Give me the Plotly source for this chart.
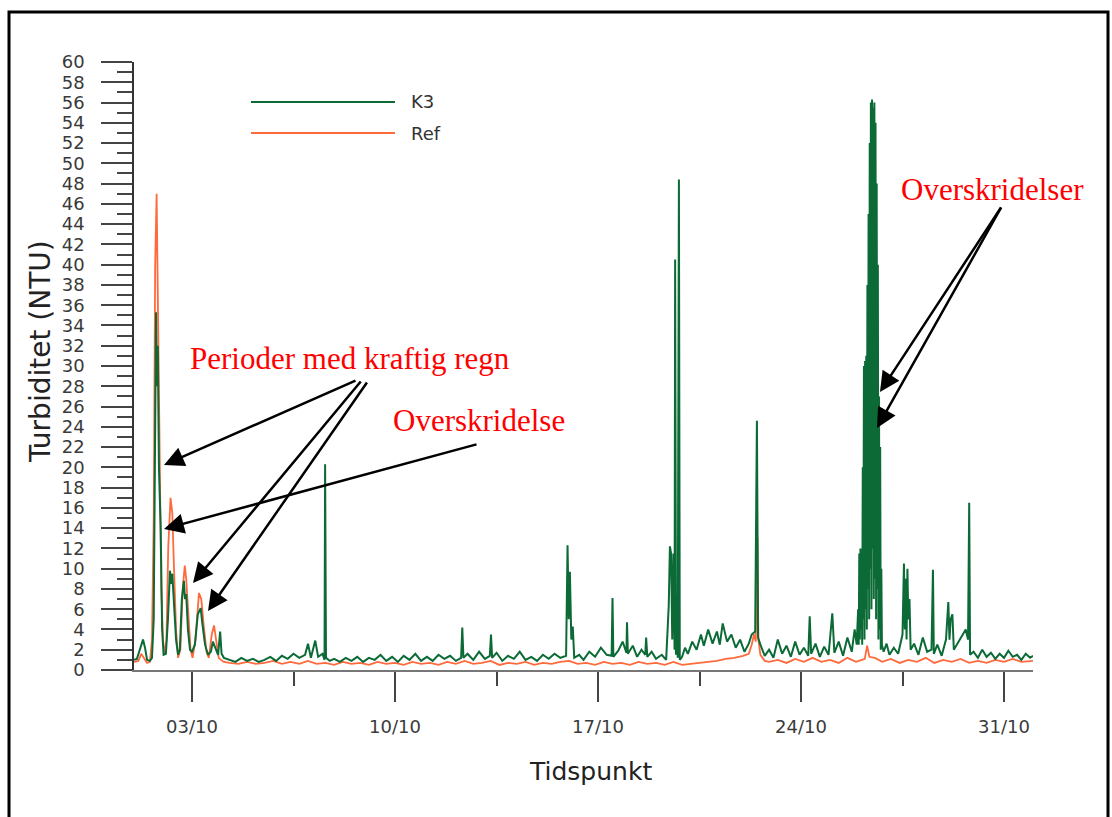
import pandas as pd
import plotly.graph_objects as go

START = pd.Timestamp("2009-10-01")

# ---------------- data (day offset from 01/10, turbidity NTU) ----------------
k3_day = [
    0.00, 0.10, 0.20, 0.31, 0.38, 0.45, 0.55, 0.62, 0.68, 0.72, 0.76, 0.79, 0.82, 0.86, 0.92, 0.97,
    1.02, 1.10, 1.17, 1.24, 1.28, 1.32, 1.38, 1.45, 1.52, 1.58, 1.65, 1.72, 1.76, 1.80, 1.86, 1.93,
    2.00, 2.10, 2.20, 2.30, 2.36, 2.45, 2.55, 2.65, 2.72, 2.80, 2.90, 2.97, 3.02, 3.10,
    3.3, 3.5, 3.7, 3.9, 4.1, 4.3, 4.5, 4.7, 4.9, 5.1, 5.3, 5.5, 5.7, 5.9, 6.0, 6.1, 6.25, 6.35,
    6.5, 6.57, 6.59, 6.62, 6.75, 6.9, 7.1, 7.3, 7.5, 7.7, 7.9, 8.1, 8.3, 8.5, 8.7, 8.9, 9.1, 9.3,
    9.5, 9.7, 9.9, 10.1, 10.3, 10.5, 10.7, 10.9, 11.1, 11.28, 11.32, 11.36, 11.5, 11.7, 11.9, 12.1,
    12.27, 12.31, 12.35, 12.5, 12.7, 12.9, 13.1, 13.3, 13.5, 13.7, 13.9, 14.1, 14.3, 14.5, 14.7,
    14.9, 14.95, 14.99, 15.03, 15.08, 15.13, 15.18, 15.35, 15.5, 15.7, 15.9, 16.1, 16.3, 16.47,
    16.5, 16.53, 16.7, 16.85, 16.98, 17.0, 17.03, 17.2, 17.35, 17.5, 17.63, 17.66, 17.7, 17.85,
    18.0, 18.2, 18.35, 18.44, 18.48, 18.52, 18.56, 18.6, 18.64, 18.66, 18.69, 18.72, 18.75, 18.79,
    18.82, 18.9, 19.0, 19.1, 19.25, 19.4, 19.55, 19.65, 19.8, 19.95, 20.1, 20.2, 20.3, 20.45,
    20.6, 20.75, 20.9, 21.05, 21.2, 21.3, 21.42, 21.48, 21.52, 21.6, 21.75, 21.9, 22.05, 22.2,
    22.35, 22.5, 22.65, 22.8, 22.95, 23.1, 23.25, 23.3, 23.35, 23.5, 23.65, 23.8, 23.95, 24.08,
    24.15, 24.3, 24.45, 24.6, 24.75, 24.85, 24.92,
    24.97, 24.99, 25.01, 25.03, 25.05, 25.07, 25.09, 25.11, 25.13, 25.15, 25.17, 25.19, 25.21,
    25.23, 25.25, 25.27, 25.29, 25.31, 25.33, 25.35, 25.37, 25.39, 25.41, 25.43, 25.45, 25.47,
    25.49, 25.51, 25.53, 25.55, 25.57, 25.59, 25.61, 25.63, 25.65, 25.67, 25.69, 25.71, 25.73,
    25.75, 25.77, 25.79,
    25.85, 25.95, 26.05, 26.2, 26.35, 26.5, 26.55, 26.58, 26.61, 26.64, 26.67, 26.7, 26.74, 26.78,
    26.9, 27.05, 27.2, 27.35, 27.5, 27.55, 27.58, 27.7, 27.85, 28.0, 28.08, 28.12, 28.16, 28.22,
    28.27, 28.4, 28.55, 28.68, 28.76, 28.8, 28.83, 28.95, 29.1, 29.25, 29.4, 29.55, 29.7, 29.85,
    30.0, 30.15, 30.3, 30.45, 30.6, 30.75, 30.9, 31.0,
]
k3_ntu = [
    1.0, 1.1, 2.0, 3.0, 2.2, 1.0, 0.9, 1.2, 5.0, 20.0, 35.3, 28.0, 32.0, 20.0, 14.0, 4.0,
    1.5, 1.6, 5.0, 9.8, 8.5, 9.5, 6.0, 3.0, 1.5, 2.0, 7.0, 8.8, 7.0, 7.5, 4.0, 2.0,
    1.8, 2.5, 5.5, 6.1, 4.5, 2.5, 1.5, 1.8, 2.8, 2.2, 1.5, 3.8, 1.6, 1.2,
    1.0, 0.8, 1.2, 0.9, 1.1, 0.8, 1.0, 1.3, 0.9, 1.4, 1.1, 1.6, 1.2, 1.5, 2.6, 1.2, 2.9, 1.3,
    1.6, 1.0, 20.3, 1.2, 0.9, 1.1, 0.8, 1.2, 0.9, 1.3, 0.8, 1.2, 1.0, 1.5, 0.9, 1.3, 0.8, 1.4,
    1.0, 1.6, 0.9, 1.3, 0.9, 1.5, 1.1, 1.4, 0.9, 1.2, 4.2, 1.2, 1.6, 1.0, 1.8, 1.1,
    1.4, 3.5, 1.2, 1.7, 0.9, 1.4, 1.1, 1.8, 1.0, 1.3, 0.9, 1.5, 1.1, 1.6, 1.2,
    1.4, 12.3, 5.0, 9.7, 3.0, 4.3, 1.2, 1.5, 1.0, 1.8, 1.3, 2.2, 1.5, 1.4,
    7.1, 1.3, 1.9, 2.8, 1.7, 4.7, 1.6, 2.4, 1.3, 2.0, 1.5, 3.2, 1.3, 1.8,
    1.1, 1.5, 1.0, 6.4, 12.2, 11.5, 3.0, 11.5, 2.0, 40.5, 1.5, 6.0, 1.2, 48.4,
    1.0, 1.3, 2.2, 1.6, 2.8, 2.0, 3.5, 2.4, 4.0, 2.6, 3.8, 2.5, 4.6, 2.8,
    3.5, 2.2, 3.0, 1.8, 2.6, 3.5, 3.8, 24.6, 3.2, 2.5, 1.4, 2.0, 1.2, 3.0,
    1.6, 2.4, 1.3, 2.8, 1.5, 2.2, 1.4, 5.3, 1.6, 2.6, 1.3, 2.3, 1.5, 5.6,
    1.7, 2.8, 1.4, 3.2, 1.8, 4.0, 2.5,
    6.0, 2.5, 11.5, 3.0, 12.0, 4.0, 11.0, 2.5, 20.0, 5.0, 30.0, 3.0, 30.5,
    6.0, 31.0, 4.0, 38.0, 8.0, 45.0, 5.0, 52.0, 10.0, 56.0, 6.0, 56.3, 12.0,
    55.5, 7.0, 56.0, 9.0, 54.0, 5.0, 48.0, 8.0, 40.0, 3.0, 27.0, 4.0, 22.0,
    2.0, 10.0, 2.5,
    1.8, 2.6, 1.5, 2.2, 1.6, 3.5, 10.5, 4.0, 9.0, 3.0, 10.0, 5.0, 7.0, 2.0,
    2.6, 1.5, 3.2, 1.8, 2.0, 9.9, 1.6, 2.5, 1.4, 3.0, 6.7, 3.0, 5.0, 5.5,
    2.0, 2.6, 3.4, 4.0, 3.0, 16.5, 1.5, 1.8, 1.2, 2.0, 1.3, 1.7, 1.1, 1.6,
    1.2, 1.9, 1.3, 1.5, 1.0, 1.6, 1.2, 1.4,
]

ref_day = [
    0.00, 0.15, 0.25, 0.35, 0.45, 0.55, 0.62, 0.68, 0.73, 0.78, 0.82, 0.88, 0.94, 1.00, 1.06,
    1.12, 1.18, 1.26, 1.32, 1.38, 1.45, 1.52, 1.60, 1.68, 1.75, 1.80, 1.88, 1.95, 2.02, 2.12,
    2.24, 2.32, 2.40, 2.50, 2.58, 2.68, 2.76, 2.84, 2.92, 3.00, 3.10,
    3.3, 3.6, 3.9, 4.2, 4.5, 4.8, 5.1, 5.4, 5.7, 6.0, 6.3, 6.6, 6.9, 7.2, 7.5, 7.8, 8.1, 8.4,
    8.7, 9.0, 9.3, 9.6, 9.9, 10.2, 10.5, 10.8, 11.1, 11.4, 11.7, 12.0, 12.3, 12.6, 12.9, 13.2,
    13.5, 13.8, 14.1, 14.4, 14.7, 15.0, 15.3, 15.6, 15.9, 16.2, 16.5, 16.8, 17.1, 17.4, 17.7,
    18.0, 18.3, 18.6, 18.9, 19.2, 19.5, 19.8, 20.1, 20.4, 20.7, 21.0, 21.2, 21.3, 21.38, 21.44,
    21.5, 21.53, 21.6, 21.75, 21.9, 22.2, 22.5, 22.8, 23.1, 23.4, 23.7, 24.0, 24.3, 24.6, 24.9,
    25.1, 25.2, 25.28, 25.36, 25.55, 25.8, 26.1, 26.4, 26.7, 27.0, 27.3, 27.6, 27.9, 28.2,
    28.5, 28.8, 29.1, 29.4, 29.7, 30.0, 30.3, 30.6, 31.0,
]
ref_ntu = [
    0.8, 0.9, 1.6, 1.2, 0.7, 0.8, 3.0, 15.0, 40.0, 47.0, 38.0, 20.0, 8.0, 3.0, 1.5,
    3.0, 12.0, 17.0, 15.5, 10.0, 4.0, 1.2, 2.0, 8.0, 10.3, 9.0, 5.0, 2.0, 1.2, 3.0,
    7.6, 7.0, 4.5, 1.8, 1.2, 3.5, 4.4, 3.0, 1.2, 1.0, 0.8,
    0.7, 0.6, 0.8, 0.6, 0.7, 0.9, 0.6, 0.8, 0.6, 0.9, 0.6, 0.7, 0.5, 0.8, 0.6, 0.7, 0.5, 0.8,
    0.6, 0.7, 0.5, 0.8, 0.6, 0.7, 0.5, 0.8, 0.6, 0.9, 0.6, 0.7, 0.9, 0.5, 0.7, 0.6,
    0.8, 0.5, 0.7, 0.6, 0.8, 0.9, 0.6, 0.7, 0.5, 0.8, 0.6, 0.7, 0.5, 0.8, 0.6,
    0.7, 0.5, 0.8, 0.5, 0.6, 0.7, 0.8, 0.9, 1.1, 1.2, 1.4, 1.6, 2.5, 3.5, 2.8,
    13.1, 3.0, 1.5, 0.9, 0.8, 1.0, 0.7, 1.1, 0.8, 1.2, 0.8, 1.0, 0.7, 1.2, 0.8,
    1.0, 1.1, 2.4, 1.3, 1.2, 0.8, 1.1, 0.7, 1.0, 0.8, 1.2, 0.7, 1.0, 0.8,
    1.1, 0.7, 0.9, 0.7, 1.0, 0.8, 1.1, 0.8, 0.9,
]

series_names = ["K3", "Ref"]
y_tick_values = list(range(0, 61, 2))
x_tick_dates = ["2009-10-03", "2009-10-10", "2009-10-17", "2009-10-24", "2009-10-31"]
x_tick_labels = ["03/10", "10/10", "17/10", "24/10", "31/10"]
x_minor_dates = ["2009-10-06 12:00", "2009-10-13 12:00", "2009-10-20 12:00", "2009-10-27 12:00"]

GREEN = "#0b6a36"
ORANGE = "#ff6a3d"

k3_time = START + pd.to_timedelta(k3_day, unit="D")
ref_time = START + pd.to_timedelta(ref_day, unit="D")

# ---------------- layout geometry (pixels) ----------------
W, H = 1112, 817
L, R, T, B = 134, 1033, 62, 670


def px(x):
    return (x - L) / (R - L)


def py(y):
    return (B - y) / (B - T)


fig = go.Figure()
fig.add_trace(go.Scatter(x=ref_time, y=ref_ntu, mode="lines", name=series_names[1],
                         line=dict(color=ORANGE, width=1.8), showlegend=False))
fig.add_trace(go.Scatter(x=k3_time, y=k3_ntu, mode="lines", name=series_names[0],
                         line=dict(color=GREEN, width=2.0), showlegend=False))

AX_FONT = dict(family="DejaVu Sans", size=18, color="#3a3a3a")

fig.update_layout(
    width=W, height=H,
    margin=dict(l=L, r=W - R, t=T, b=H - B, pad=0),
    paper_bgcolor="white", plot_bgcolor="white",
    xaxis=dict(
        type="date",
        range=["2009-10-01", "2009-11-01"],
        tickmode="array", tickvals=x_tick_dates, ticktext=x_tick_labels,
        ticks="outside", ticklen=30, tickwidth=1.5, tickcolor="#444",
        minor=dict(tickmode="array", tickvals=x_minor_dates, ticks="outside",
                   ticklen=14, tickwidth=1.5, tickcolor="#444"),
        showline=True, linecolor="#777", linewidth=2,
        showgrid=False, zeroline=False,
        tickfont=AX_FONT, ticklabelstandoff=9,
        fixedrange=True,
    ),
    yaxis=dict(
        range=[0, 60],
        tickmode="array", tickvals=y_tick_values,
        ticks="outside", ticklen=31, tickwidth=1.5, tickcolor="#444",
        minor=dict(dtick=1, tick0=1, ticks="outside", ticklen=15, tickwidth=1.5, tickcolor="#444"),
        showline=True, linecolor="#333", linewidth=1.5,
        showgrid=False, zeroline=False,
        tickfont=AX_FONT, ticklabelstandoff=13,
        fixedrange=True,
    ),
    showlegend=False,
)

# border frame
fig.add_shape(type="rect", xref="paper", yref="paper",
              x0=px(9), x1=px(1108), y0=py(830), y1=py(12),
              line=dict(color="black", width=3), fillcolor="rgba(0,0,0,0)", layer="above")

# manual legend
fig.add_shape(type="line", xref="paper", yref="paper", x0=px(251), x1=px(395), y0=py(102), y1=py(102),
              line=dict(color=GREEN, width=2))
fig.add_shape(type="line", xref="paper", yref="paper", x0=px(251), x1=px(395), y0=py(133), y1=py(133),
              line=dict(color=ORANGE, width=2))

annotations = []
for name, ypix in zip(series_names, [102, 133]):
    annotations.append(dict(x=px(409), y=py(ypix), xref="paper", yref="paper", text=name,
                            showarrow=False, xanchor="left", yanchor="middle",
                            font=dict(family="DejaVu Sans", size=18, color="#333")))

# axis titles
annotations.append(dict(x=px(590), y=py(771), xref="paper", yref="paper", text="Tidspunkt",
                        showarrow=False, xanchor="center", yanchor="middle",
                        font=dict(family="DejaVu Sans", size=25, color="#222")))
annotations.append(dict(x=px(40), y=py(352), xref="paper", yref="paper", text="Turbiditet (NTU)",
                        showarrow=False, xanchor="center", yanchor="middle", textangle=-90,
                        font=dict(family="DejaVu Sans", size=28, color="#222")))

# red callout texts
RED_FONT = dict(family="Liberation Serif", size=31, color="#ff0000")
for txt, cx, cy in [("Perioder med kraftig regn", 350, 358),
                    ("Overskridelse", 479, 420),
                    ("Overskridelser", 992, 189)]:
    annotations.append(dict(x=px(cx), y=py(cy), xref="paper", yref="paper", text=txt,
                            showarrow=False, xanchor="center", yanchor="middle", font=RED_FONT))

# arrows (tail -> head)
for (tx, ty), (hx, hy) in [((357, 380), (164, 465)),
                           ((362, 380), (193, 583)),
                           ((368, 381), (208, 611)),
                           ((478, 444), (164, 529)),
                           ((1002, 206), (880, 392)),
                           ((1002, 206), (877, 428))]:
    annotations.append(dict(x=px(hx), y=py(hy), xref="paper", yref="paper",
                            ax=tx - hx, ay=ty - hy, axref="pixel", ayref="pixel",
                            text="", showarrow=True, arrowhead=2, arrowsize=1.6,
                            arrowwidth=2.5, arrowcolor="black"))

fig.update_layout(annotations=annotations)

fig.write_html("out.html", config={"displayModeBar": False},
               post_script="document.body.style.margin='0';document.body.style.overflow='hidden';")
